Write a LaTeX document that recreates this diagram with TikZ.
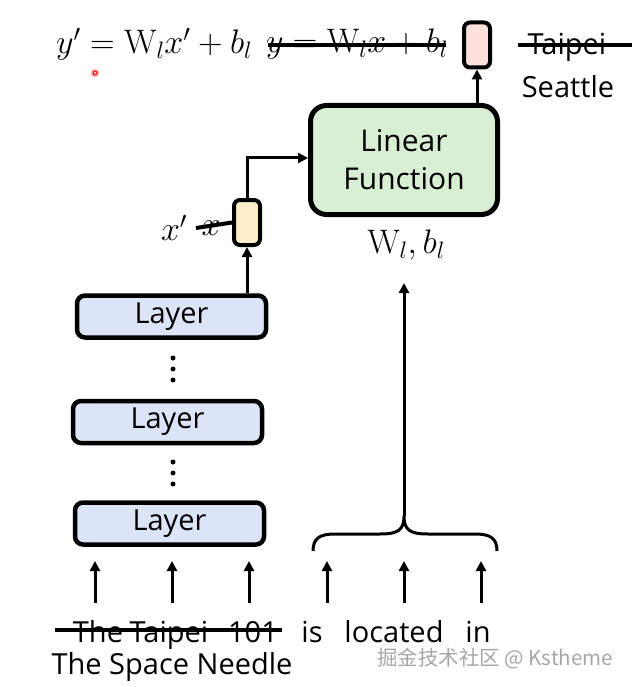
\RequirePackage{fix-cm}
\documentclass[tikz,border=0pt]{standalone}
\usepackage{fontspec}
\setmainfont{Open Sans}
\setmathrm{Latin Modern Roman}
\newfontfamily\cjk{Noto Sans CJK SC}
\usetikzlibrary{arrows.meta}
\definecolor{layerblue}{HTML}{DCE5F8}
\definecolor{lingreen}{HTML}{D9EFD3}
\definecolor{xyellow}{HTML}{FDEEC9}
\definecolor{ypink}{HTML}{FDE1DA}
\tikzset{
  layerbox/.style={draw, line width=4.5pt, rounded corners=8pt, fill=layerblue,
    minimum width=189pt, minimum height=42pt, inner sep=0pt, font=\fontsize{29}{32}\selectfont},
  linbox/.style={draw, line width=5pt, rounded corners=16pt, fill=lingreen,
    minimum width=187pt, minimum height=109pt, align=center, inner sep=0pt,
    font=\fontsize{30}{38}\selectfont},
  vecbox/.style={draw, line width=4pt, rounded corners=6pt, minimum width=26pt,
    minimum height=45pt, inner sep=0pt},
  arr/.style={line width=3pt, -{Triangle[length=10pt,width=10pt]}},
  strike/.style={line width=4pt},
  word/.style={inner sep=0pt, anchor=base, font=\fontsize{29}{32}\selectfont},
  mathtxt/.style={inner sep=0pt, font=\fontsize{34}{37}\selectfont},
  dot/.style={fill=black, circle, inner sep=0pt, minimum size=5pt}
}
\begin{document}
\begin{tikzpicture}[x=1pt,y=-1pt]
\useasboundingbox (0,0) rectangle (639,687);

% top formulas
\node[mathtxt, anchor=west] (f1) at (56,44) {$y' = \mathrm{W}_l x' + b_l$};
\node[mathtxt] (f2) at (357,44) {$y = \mathrm{W}_l x + b_l$};
\draw[strike] (268,45) -- (446,45);
\node[circle, fill=red!25, inner sep=0pt, minimum size=9pt] (rd) at (95,73) {};
\node[circle, draw=red, line width=1pt, inner sep=0pt, minimum size=4pt] (rd2) at (95,73) {};

% output box
\node[vecbox, fill=ypink] (out) at (477,45) {};
\node[word] (taipei) at (567,55) {Taipei};
\draw[strike] (518,45) -- (632,45);
\node[word] (seattle) at (568,98) {Seattle};

% linear function
\node[linbox] (lf) at (404,160) {Linear\\Function};
\node[mathtxt] (wb) at (406,245) {$\mathrm{W}_l, b_l$};
\coordinate (wbtip) at (404,283);

% x box
\node[vecbox, fill=xyellow] (xb) at (247,222.5) {};
\node[mathtxt] (xp) at (174,228) {$x'$};
\node[mathtxt] (xo) at (211,228) {$x$};
\draw[strike] (196,228) -- (xb.west);

% layers
\node[layerbox] (l1) at (171.5,316.5) {Layer};
\node[layerbox] (l2) at (167.5,422) {Layer};
\node[layerbox] (l3) at (169.5,523.5) {Layer};
\foreach \y in {358,369,380} \node[dot] at (173,\y) {};
\foreach \y in {462,473,484} \node[dot] at (173,\y) {};

% connectors
\draw[arr] (l1.north -| xb) -- (xb.south);
\draw[arr] (xb.north) |- ([yshift=2pt]lf.west);
\draw[arr] (lf.north -| out) -- (out.south);

% brace
\coordinate (bl) at (313,551);
\coordinate (br) at (497,551);
\coordinate (tip) at (404,516);
\draw[line width=3pt] (bl) .. controls (313,538) and (320,534) .. (335,534) -- (380,534)
  .. controls (398,534) and (404,530) .. (tip)
  .. controls (404,530) and (410,534) .. (428,534) -- (475,534)
  .. controls (490,534) and (497,538) .. (br);
\draw[arr] (tip) -- (wbtip);

% input arrows
\foreach \x/\n in {95/a,172/b,249/c,327/d,404/e,481/f}{
  \coordinate (s\n) at (\x,603);
  \coordinate (t\n) at (\x,561);
  \draw[arr] (s\n) -- (t\n);
}

% words
\node[word] (w1) at (98,642) {The};
\node[word] (w2) at (169,642) {Taipei};
\node[word] (w3) at (253,642) {101};
\draw[strike] (55,630) -- (282,630);
\node[word] (w4) at (312,642) {is};
\node[word] (w5) at (394,642) {located};
\node[word] (w6) at (478,642) {in};
\node[word] (w7) at (172,674) {The Space Needle};
\node[inner sep=0pt, text=black!35, font=\cjk\fontsize{20.5}{22}\selectfont] (wm) at (495,659) {掘金技术社区 @ Kstheme};
\end{tikzpicture}
\end{document}
